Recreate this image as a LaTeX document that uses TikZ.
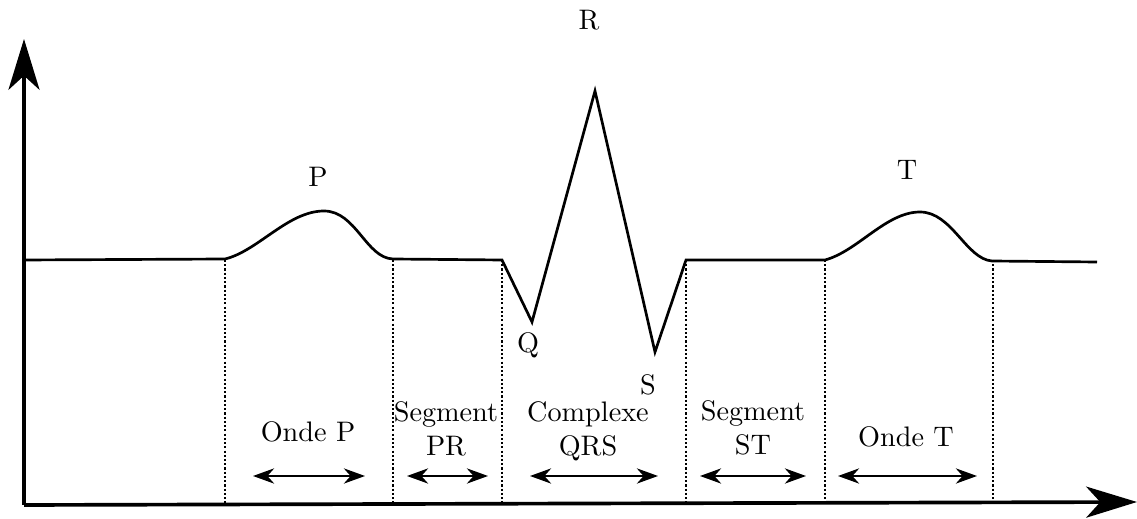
\documentclass[tikz,border=0pt]{standalone}
\usetikzlibrary{arrows.meta}
\begin{document}
\begin{tikzpicture}[x=0.3543pt,y=-0.3543pt,
  axis/.style={line width=1.3pt,-{Stealth[length=18pt,width=11pt,inset=5pt]}},
  ecg/.style={line width=0.95pt,line join=miter},
  sep/.style={line width=0.9pt,dash pattern=on 0.75pt off 0.75pt},
  dbl/.style={line width=0.65pt,{Stealth[length=7.5pt,width=5.4pt,inset=2.4pt]}-{Stealth[length=7.5pt,width=5.4pt,inset=2.4pt]}},
  lbl/.style={inner sep=0pt,anchor=base},
  two/.style={inner sep=0pt,anchor=north,align=center}]
\useasboundingbox (0,0) rectangle (1137,519);
% key points
\coordinate (O) at (24,505);
\coordinate (Ytop) at (24,39);
\coordinate (Xend) at (1137,502);
\coordinate (b0) at (24,260);
\coordinate (p0) at (225,259);
\coordinate (pk) at (324,211);
\coordinate (p1) at (393,259);
\coordinate (q0) at (502,260);
\coordinate (q) at (532,322);
\coordinate (r) at (595,91);
\coordinate (s) at (655,352);
\coordinate (s1) at (686,260);
\coordinate (t0) at (825,260);
\coordinate (tk) at (920,212);
\coordinate (t1) at (992,261);
\coordinate (b1) at (1097,262);
% axes
\draw[axis] (O) -- (Ytop);
\draw[axis] (O) -- (Xend);
% ECG trace
\draw[ecg] (b0) -- (p0) .. controls (258,251) and (288,211) .. (pk)
  .. controls (356,211) and (366,258) .. (p1) -- (q0) -- (q) -- (r) -- (s) -- (s1) -- (t0)
  .. controls (858,251) and (886,212) .. (tk)
  .. controls (952,212) and (966,259) .. (t1) -- (b1);
% separators
\foreach \n/\x in {a/225,b/393,c/502,d/686,e/825,f/993}{
  \coordinate (top\n) at (\x,260);
  \coordinate (bot\n) at (\x,503);
  \draw[sep] (top\n) -- (bot\n);
}
% wave letters
\node[lbl] (lP) at (318,187) {P};
\node[lbl] (lR) at (589,30) {R};
\node[lbl] (lQ) at (528,353) {Q};
\node[lbl] (lS) at (648,395) {S};
\node[lbl] (lT) at (907,180) {T};
% interval labels
\node[lbl] (ondeP) at (308,442) {Onde P};
\node[two] (segPR) at (446,401) {Segment\\PR};
\node[two] (qrs) at (588,401) {Complexe\\QRS};
\node[two] (segST) at (753,400) {Segment\\ST};
\node[lbl] (ondeT) at (906,447) {Onde T};
% interval arrows
\coordinate (a1) at (253,476); \coordinate (a2) at (365,476);
\coordinate (b1a) at (407,476); \coordinate (b2a) at (488,476);
\coordinate (c1) at (530,476); \coordinate (c2) at (658,476);
\coordinate (d1) at (700,476); \coordinate (d2) at (806,476);
\coordinate (e1) at (838,476); \coordinate (e2) at (977,476);
\draw[dbl] (a1) -- (a2);
\draw[dbl] (b1a) -- (b2a);
\draw[dbl] (c1) -- (c2);
\draw[dbl] (d1) -- (d2);
\draw[dbl] (e1) -- (e2);
\end{tikzpicture}
\end{document}
